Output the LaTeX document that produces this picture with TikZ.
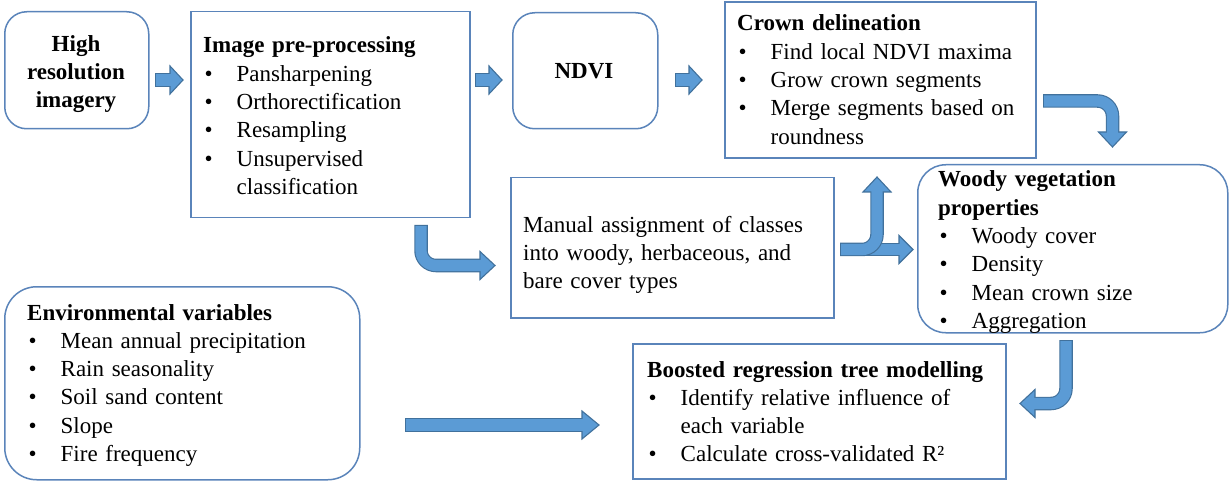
\documentclass[tikz,border=0pt]{standalone}
\usepackage{fontspec}
\setmainfont{Liberation Serif}
\usetikzlibrary{calc}
\definecolor{boxline}{RGB}{90,132,186}
\definecolor{arrfill}{RGB}{91,155,213}
\definecolor{arrline}{RGB}{65,113,156}
\newcommand\itm{\makebox[33.5pt][l]{\hspace{1.5pt}\textbullet}}
\newcommand\ind{\hspace*{33.5pt}}
\tikzset{
  frame/.style={draw=boxline, line width=1.5pt, fill=white, anchor=north west, inner sep=0pt},
  sqbox/.style={frame},
  rbox/.style={frame, rounded corners=#1},
  txt/.style={font=\fontsize{23}{28.3}\selectfont, inner sep=0pt, align=left, text width=#1, anchor=base west},
  shaftout/.style={draw=arrline, line width=13.5pt, line cap=butt, rounded corners=15pt},
  shaftin/.style={draw=arrfill, line width=11.2pt, line cap=butt, rounded corners=15pt, shorten >=-2pt, shorten <=1.2pt},
  arrhead/.style={fill=arrfill, draw=arrline, line width=1.1pt, line join=miter}
}
\newcommand\barr[3]{%
  \draw[shaftout] #1;
  \filldraw[arrhead] ($(#2)!14pt!90:(#3)$) -- (#3) -- ($(#2)!14pt!-90:(#3)$) -- cycle;
  \draw[shaftin] #1;}
\begin{document}
\begin{tikzpicture}[x=1pt,y=-1pt]
\path[use as bounding box] (0,0) rectangle (1229,481);
\fill[white] (0,0) rectangle (1229,481);

% boxes
\node[rbox=22pt, minimum width=144, minimum height=117] (hr) at (4,11) {};
\node[sqbox, minimum width=279, minimum height=206] (pp) at (190,11) {};
\node[rbox=22pt, minimum width=145, minimum height=116] (nd) at (512,12) {};
\node[sqbox, minimum width=311, minimum height=156] (cr) at (724,1.5) {};
\node[rbox=28pt, minimum width=310, minimum height=168] (wv) at (917,164) {};
\node[sqbox, minimum width=323, minimum height=140] (ma) at (510,177) {};
\node[rbox=32pt, minimum width=355, minimum height=193] (ev) at (4,286) {};
\node[sqbox, minimum width=373, minimum height=135] (br) at (632,343) {};

% texts
\node[font=\bfseries\fontsize{23}{28}\selectfont, inner sep=0pt, align=center, text width=140, anchor=base] (hrT) at (76,51.5) {High\\resolution\\imagery};
\node[txt=270] (ppT) at (203,53) {\textbf{Image pre-processing}\\
\itm Pansharpening\\
\itm Orthorectification\\
\itm Resampling\\
\itm Unsupervised\\
\ind classification};
\node[font=\bfseries\fontsize{23}{28}\selectfont, inner sep=0pt, anchor=base] (ndT) at (584,79) {NDVI};
\node[txt=300] (crT) at (737,31) {\textbf{Crown delineation}\\
\itm Find local NDVI maxima\\
\itm Grow crown segments\\
\itm Merge segments based on\\
\ind roundness};
\node[txt=300] (wvT) at (938,187) {\textbf{Woody vegetation}\\
\textbf{properties}\\
\itm Woody cover\\
\itm Density\\
\itm Mean crown size\\
\itm Aggregation};
\node[txt=310, font=\fontsize{23}{27.7}\selectfont] (maT) at (523,233) {Manual assignment of classes\\
into woody, herbaceous, and\\
bare cover types};
\node[txt=340] (evT) at (27,320) {\textbf{Environmental variables}\\
\itm Mean annual precipitation\\
\itm Rain seasonality\\
\itm Soil sand content\\
\itm Slope\\
\itm Fire frequency};
\node[txt=360] (brT) at (647,377) {\textbf{Boosted regression tree modelling}\\
\itm Identify relative influence of\\
\ind each variable\\
\itm Calculate cross-validated R²};

% arrow coordinates
\coordinate (a1t) at (155,80);  \coordinate (a1b) at (170,80);  \coordinate (a1p) at (183,80);
\coordinate (a2t) at (475,80);  \coordinate (a2b) at (489,80);  \coordinate (a2p) at (502,80);
\coordinate (a3t) at (675,80);  \coordinate (a3b) at (689,80);  \coordinate (a3p) at (702,80);
\coordinate (b1t) at (1043,101); \coordinate (b1c) at (1112.5,101); \coordinate (b1b) at (1112.5,132); \coordinate (b1p) at (1112.5,147);
\coordinate (b2t) at (840,249.5); \coordinate (b2c) at (877,249.5); \coordinate (b2b) at (877,192); \coordinate (b2p) at (877,177);
\coordinate (b2r) at (899,249.5); \coordinate (b2q) at (913,249.5);
\coordinate (b3t) at (421,225); \coordinate (b3c) at (421,265.5); \coordinate (b3b) at (480,265.5); \coordinate (b3p) at (495,265.5);
\coordinate (b4t) at (1066,340); \coordinate (b4c) at (1066,403.5); \coordinate (b4b) at (1035,403.5); \coordinate (b4p) at (1020,403.5);
\coordinate (c1t) at (405,425); \coordinate (c1b) at (582,425); \coordinate (c1p) at (599,425);

% arrows
\barr{(a1t) -- (a1b)}{a1b}{a1p}
\barr{(a2t) -- (a2b)}{a2b}{a2p}
\barr{(a3t) -- (a3b)}{a3b}{a3p}
\barr{(b1t) -- (b1c) -- (b1b)}{b1b}{b1p}
\barr{(b2t) -- (b2r)}{b2r}{b2q}
\barr{(b2t) -- (b2c) -- (b2b)}{b2b}{b2p}
\barr{(b3t) -- (b3c) -- (b3b)}{b3b}{b3p}
\barr{(b4t) -- (b4c) -- (b4b)}{b4b}{b4p}
\barr{(c1t) -- (c1b)}{c1b}{c1p}
\end{tikzpicture}
\end{document}
